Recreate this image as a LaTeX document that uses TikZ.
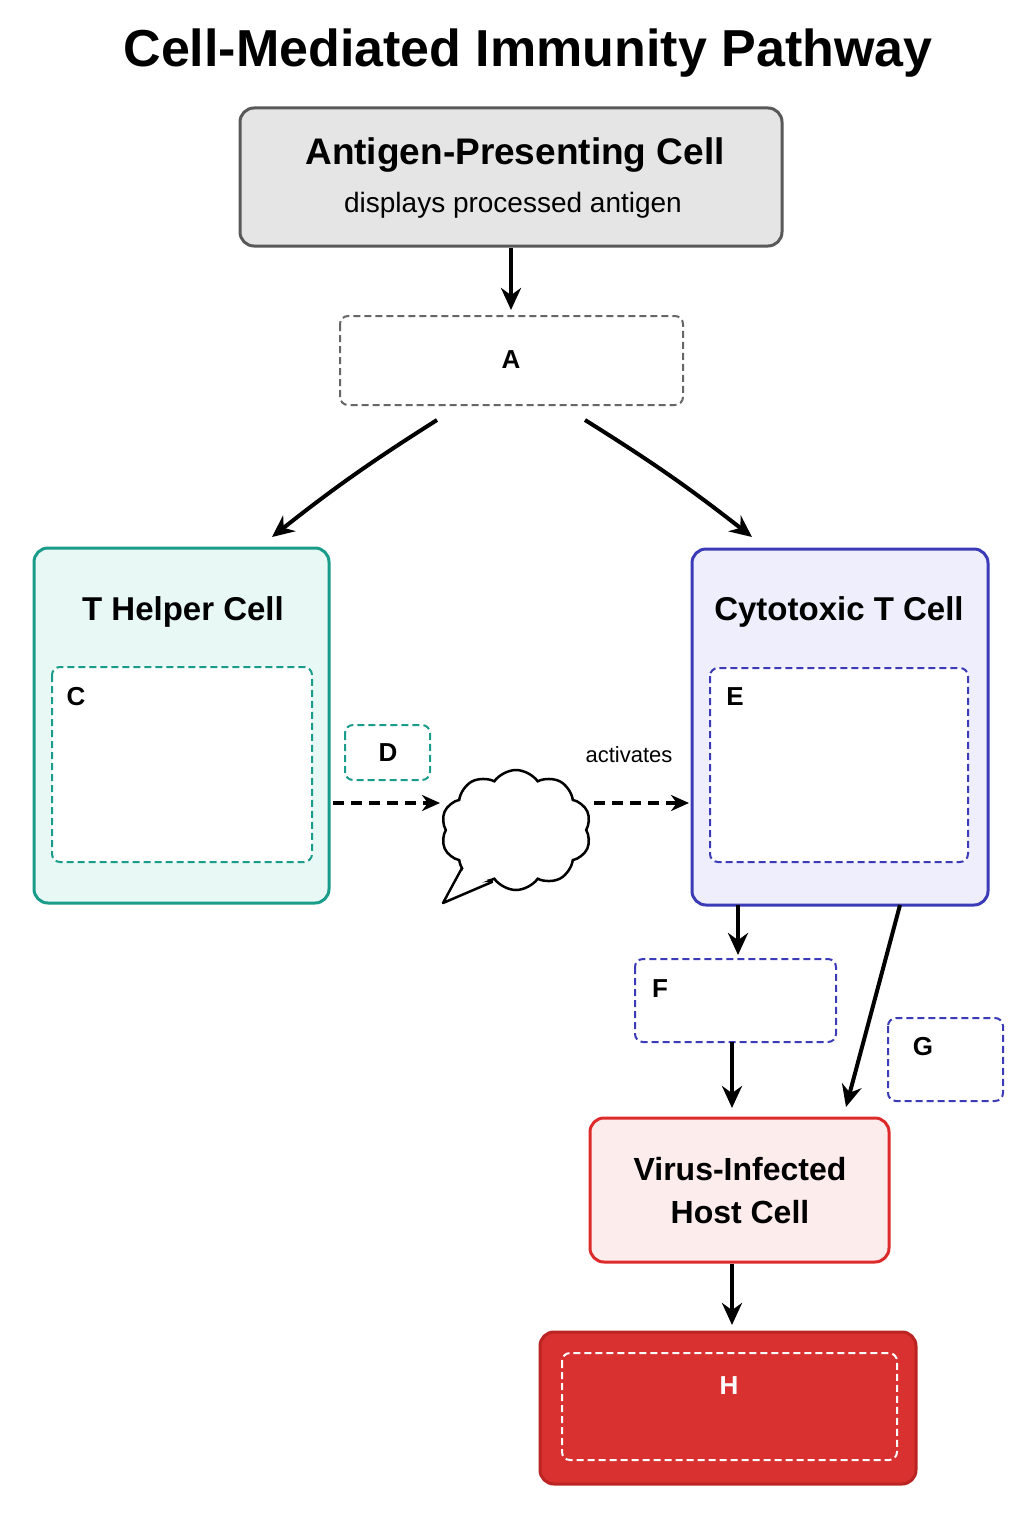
\documentclass[tikz,border=0pt]{standalone}
\usepackage{fontspec}
\setmainfont{Liberation Sans}
\usetikzlibrary{arrows.meta,shapes.symbols}
\definecolor{teal1}{HTML}{1A9C8A}
\definecolor{tealfill}{HTML}{E8F8F4}
\definecolor{blue1}{HTML}{3B3BB8}
\definecolor{bluefill}{HTML}{EEEEFD}
\definecolor{red1}{HTML}{DD2A2A}
\definecolor{redfill}{HTML}{FDECEC}
\definecolor{hfill}{HTML}{D93030}
\tikzset{
 box/.style={draw,line width=3pt,rounded corners=14pt},
 dbox/.style={draw,line width=2pt,dash pattern=on 7pt off 4pt,rounded corners=8pt},
 arr/.style={-{Stealth[length=22pt,width=20pt]},line width=4pt},
 darr/.style={-{Stealth[length=18pt,width=16pt]},line width=3.5pt,dash pattern=on 11pt off 7pt},
 lbl/.style={font=\fontsize{26}{30}\selectfont\bfseries},
 ttl/.style={font=\fontsize{33}{40}\selectfont\bfseries,align=center}
}
\begin{document}
\begin{tikzpicture}[x=1pt,y=-1pt]
\useasboundingbox[fill=white] (0,0) rectangle (1024,1536);
\node[font=\fontsize{52}{60}\selectfont\bfseries] (title) at (528,53) {Cell-Mediated Immunity Pathway};
% APC
\draw[box,draw=black!65,fill=black!10] (240,108) rectangle (782,246);
\node[font=\fontsize{37}{42}\selectfont\bfseries] (apct) at (515,155) {Antigen-Presenting Cell};
\node[font=\fontsize{28}{32}\selectfont] (apcs) at (513,205) {displays processed antigen};
\coordinate (apcb) at (511,248);
% A
\draw[dbox,draw=black!60] (340,316) rectangle (683,405);
\node[lbl] (A) at (511,360) {A};
\coordinate (Atop) at (511,310);
\draw[arr] (apcb) -- (Atop);
\coordinate (Al) at (437,420); \coordinate (Ar) at (585,420);
\coordinate (Th) at (272,537); \coordinate (Tc) at (752,537);
\draw[arr] (Al) to[bend right=3] (Th);
\draw[arr] (Ar) to[bend left=3] (Tc);
% T helper
\draw[box,draw=teal1,fill=tealfill] (34,548) rectangle (329,903);
\node[ttl] (th) at (183,612) {T Helper Cell};
\draw[dbox,draw=teal1,fill=white] (52,667) rectangle (312,862);
\node[lbl] (C) at (76,697) {C};
\draw[dbox,draw=teal1] (345,725) rectangle (430,780);
\node[lbl] (D) at (388,753) {D};
\coordinate (d1) at (333,803); \coordinate (d2) at (440,803);
\draw[darr] (d1) -- (d2);
% cloud
\draw[line width=2.5pt,fill=white,line join=round] (462,868) -- (443,903) -- (492,882) -- cycle;
\node[cloud,draw,line width=2.5pt,cloud puffs=10,cloud puff arc=110,minimum width=150pt,minimum height=120pt,aspect=1.3,fill=white] (cl) at (516,830) {};
\fill[white] (465,866) -- (448,897) -- (488,880) -- cycle;
\node[font=\fontsize{22}{26}\selectfont] (act) at (629,755) {activates};
\coordinate (e1) at (594,803); \coordinate (e2) at (689,803);
\draw[darr] (e1) -- (e2);
% Cytotoxic
\draw[box,draw=blue1,fill=bluefill] (692,549) rectangle (988,905);
\node[ttl] (tc) at (839,612) {Cytotoxic T Cell};
\draw[dbox,draw=blue1,fill=white] (710,668) rectangle (968,862);
\node[lbl] (E) at (735,697) {E};
% F, G
\draw[dbox,draw=blue1] (635,959) rectangle (836,1042);
\node[lbl] (F) at (660,989) {F};
\draw[dbox,draw=blue1] (888,1018) rectangle (1003,1101);
\node[lbl] (G) at (923,1047) {G};
\coordinate (c1) at (738,905); \coordinate (c2) at (738,955);
\draw[arr] (c1) -- (c2);
\coordinate (f1) at (732,1042); \coordinate (f2) at (732,1108);
\draw[arr] (f1) -- (f2);
\coordinate (g1) at (900,905); \coordinate (g2) at (846,1107);
\draw[arr] (g1) -- (g2);
% Virus
\draw[box,draw=red1,fill=redfill] (590,1118) rectangle (889,1262);
\node[ttl,font=\fontsize{32}{43}\selectfont\bfseries] (v) at (740,1191) {Virus-Infected\\Host Cell};
\coordinate (v1) at (732,1264); \coordinate (v2) at (732,1325);
\draw[arr] (v1) -- (v2);
% H
\draw[box,draw=red1!85!black,fill=hfill] (540,1332) rectangle (916,1484);
\draw[dbox,draw=white] (562,1353) rectangle (897,1460);
\node[lbl,text=white] (H) at (729,1386) {H};
\end{tikzpicture}
\end{document}
